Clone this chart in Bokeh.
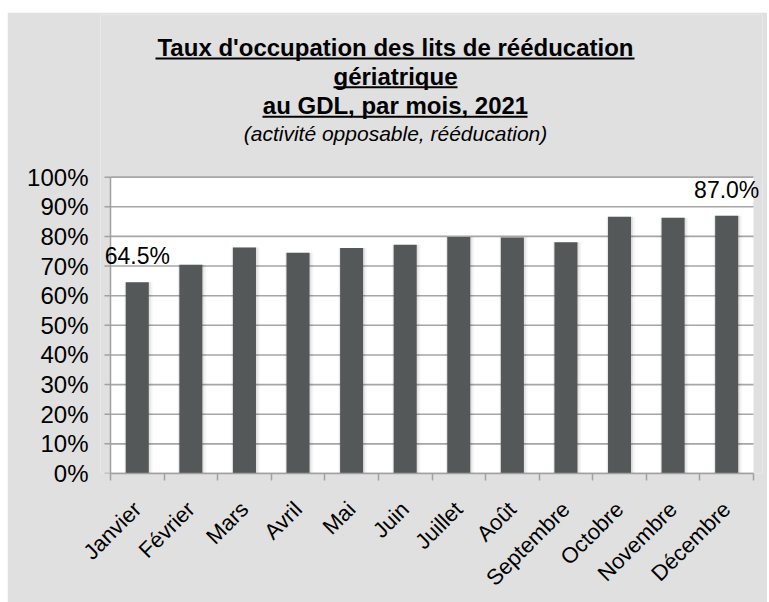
import math
from bokeh.plotting import figure
from bokeh.layouts import column, row
from bokeh.models import (Range1d, FixedTicker, NumeralTickFormatter,
                          ColumnDataSource, Spacer)
from bokeh.embed import file_html
from bokeh.resources import INLINE
from bokeh.core.properties import value

# ---------------- data ----------------
months = ["Janvier", "Février", "Mars", "Avril", "Mai", "Juin", "Juillet",
          "Août", "Septembre", "Octobre", "Novembre", "Décembre"]
rates = [0.645, 0.704, 0.763, 0.745, 0.761, 0.772, 0.798, 0.796, 0.780,
         0.866, 0.863, 0.870]
y_ticks = [0.0, 0.1, 0.2, 0.3, 0.4, 0.5, 0.6, 0.7, 0.8, 0.9, 1.0]
labelled = [0, 11]
title_lines = ["Taux d'occupation des lits de rééducation", "gériatrique",
               "au GDL, par mois, 2021"]
subtitle = "(activité opposable, rééducation)"

# ---------------- layout constants (page pixels) ----------------
GX0, GY0 = 7, 12                       # top-left of the grey chart area
GW, GH = 760, 602 - 12
PL, PR, PT, PB = 110, 753, 177, 474    # white plot area edges
FL, FR, FT = 100, 762, 14              # frame edges
FONT = "Liberation Sans"
GREY = "#e0e0e0"
AXIS_GREY = "#a0a0a0"
NX = len(months)


def dx(px):
    return (px - PL) / (PR - PL) * NX


def dy(py):
    return (PB - py) / (PB - PT)


p = figure(width=GW, height=GH, output_backend="svg", toolbar_location=None,
           x_range=Range1d(dx(FL), dx(FR)), y_range=Range1d(0, dy(FT)),
           min_border_left=FL - GX0, min_border_right=GX0 + GW - FR,
           min_border_top=FT - GY0, min_border_bottom=602 - PB)
p.border_fill_color = GREY
p.background_fill_color = GREY
p.outline_line_color = None
p.xgrid.visible = False
p.ygrid.visible = False

xs = [i + 0.5 for i in range(NX)]
nt = len(y_ticks)

# white plot area, gridlines, value-axis line and ticks
p.quad(left=[0], right=[NX], bottom=[0], top=[1], fill_color="white",
       line_color=None)
p.segment(x0=[0] * nt, x1=[NX] * nt, y0=y_ticks, y1=y_ticks,
          line_color="#a6a6a6", line_width=1.6)
p.segment(x0=[0], x1=[0], y0=[0], y1=[1], line_color=AXIS_GREY,
          line_width=1.5)
p.segment(x0=[dx(PL - 6)] * nt, x1=[0] * nt, y0=y_ticks, y1=y_ticks,
          line_color=AXIS_GREY, line_width=1.5)

# shadows
p.vbar(x=[x + 0.02 for x in xs], top=rates, width=0.53, bottom=0,
       fill_color="black", fill_alpha=0.04, line_color=None)
p.vbar(x=[x + 0.01 for x in xs], top=rates, width=0.48, bottom=0,
       fill_color="black", fill_alpha=0.07, line_color=None)
# bars
p.vbar(x=xs, top=rates, width=0.43, bottom=0, fill_color="#545859",
       line_color=None)

# data labels
src = ColumnDataSource(dict(
    x=[xs[i] for i in labelled],
    y=[rates[i] for i in labelled],
    text=[f"{rates[i] * 100:.1f}%" for i in labelled]))
p.text(x="x", y="y", text="text", source=src, text_align="center",
       text_baseline="middle", y_offset=-26, text_font=value(FONT),
       text_font_size="23px", text_color="black")

# titles
title_cx = 395
mids = [47, 76, 105]
p.text(x=[dx(title_cx)] * 3, y=[dy(m) for m in mids], text=title_lines,
       text_align="center", text_baseline="middle",
       text_font=value(FONT), text_font_size="24px",
       text_font_style="bold", text_color="black")
p.text(x=[dx(title_cx)], y=[dy(133)], text=[subtitle], text_align="center",
       text_baseline="middle", text_font=value(FONT),
       text_font_size="21px", text_font_style="italic", text_color="black")
underlines = [(155, 634, 58), (333, 457, 87), (262, 527, 116.5)]
p.segment(x0=[dx(u[0]) for u in underlines], x1=[dx(u[1]) for u in underlines],
          y0=[dy(u[2]) for u in underlines], y1=[dy(u[2]) for u in underlines],
          line_color="black", line_width=2)

# y axis (labels only; line and ticks drawn at the plot-area edge above)
ya = p.yaxis[0]
ya.bounds = (0, 1)
ya.ticker = FixedTicker(ticks=y_ticks)
ya.formatter = NumeralTickFormatter(format="0%")
ya.axis_line_color = None
ya.major_tick_line_color = None
ya.major_tick_out = 0
ya.major_tick_in = 0
ya.minor_tick_line_color = None
ya.major_label_text_font = FONT
ya.major_label_text_font_size = "24px"
ya.major_label_text_color = "black"
ya.major_label_standoff = FL - 88

# x axis
xa = p.xaxis[0]
xa.bounds = (0, NX)
xa.ticker = FixedTicker(ticks=xs, minor_ticks=list(range(NX + 1)))
xa.major_label_overrides = {x: m for x, m in zip(xs, months)}
xa.axis_line_color = AXIS_GREY
xa.axis_line_width = 1.5
xa.major_tick_line_color = None
xa.major_tick_out = 0
xa.major_tick_in = 0
xa.minor_tick_line_color = AXIS_GREY
xa.minor_tick_line_width = 1.5
xa.minor_tick_out = 7
xa.minor_tick_in = 0
xa.major_label_orientation = math.pi / 4
xa.major_label_text_font = FONT
xa.major_label_text_font_size = "22px"
xa.major_label_text_color = "black"
xa.major_label_standoff = 25

layout = column(Spacer(height=GY0), row(Spacer(width=GX0), p, spacing=0),
                spacing=0)

open("out.html", "w").write(file_html(layout, INLINE))
